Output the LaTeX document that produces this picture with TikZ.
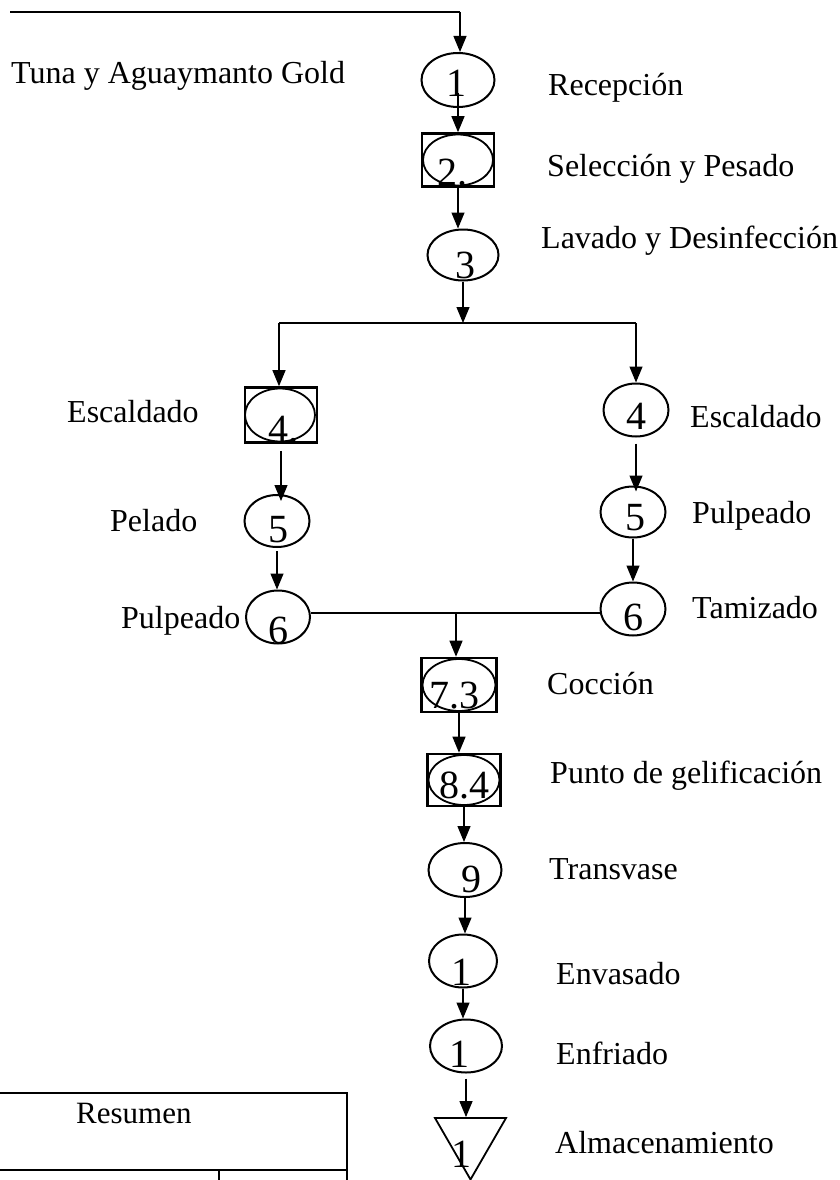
\documentclass[tikz,border=0pt]{standalone}
\usepackage{fontspec}
\setmainfont{Liberation Serif}
\usetikzlibrary{shapes.geometric,arrows.meta}

\tikzset{
  op/.style={ellipse, draw, line width=2pt, inner sep=0pt},
  caja/.style={rectangle, draw, line width=2.6pt, inner sep=0pt},
  almacen/.style={regular polygon, regular polygon sides=3, shape border rotate=180,
    draw, line width=1.8pt, inner sep=0pt, minimum size=82pt},
  num/.style={anchor=base, inner sep=0pt, font=\fontsize{40}{48}\selectfont},
  txt/.style={anchor=base west, inner sep=0pt, font=\fontsize{32}{38}\selectfont},
  flecha/.style={line width=1.2pt, -{Triangle[length=16pt,width=13pt]}},
  linea/.style={line width=1.5pt},
  tabla/.style={line width=2pt}
}

\begin{document}
\begin{tikzpicture}[x=1pt, y=-1pt]
  \useasboundingbox (0,0) rectangle (839,1180);
  \clip (0,0) rectangle (839,1180);

  \node (rec)  at (458,80)  [op, minimum width=73pt, minimum height=54pt] {};
  \node (sel)  at (458,160) [caja, minimum width=72pt, minimum height=53pt] {};
  \node (selE) at (458,160) [op, line width=1.8pt, minimum width=70pt, minimum height=51pt] {};
  \node (lav)  at (463,255) [op, minimum width=71pt, minimum height=51pt] {};

  \node (escI)  at (281,415) [caja, minimum width=72pt, minimum height=55pt] {};
  \node (escIE) at (280,415) [op, line width=1.8pt, minimum width=70pt, minimum height=53pt] {};
  \node (pelI)  at (277,521) [op, minimum width=65pt, minimum height=52pt] {};
  \node (pulI)  at (278,617) [op, minimum width=64pt, minimum height=53pt] {};

  \node (escD) at (636,410) [op, minimum width=65pt, minimum height=53pt] {};
  \node (pulD) at (633,512) [op, minimum width=65pt, minimum height=51pt] {};
  \node (tam)  at (633,609) [op, minimum width=65pt, minimum height=53pt] {};

  \node (coc)  at (459,685) [caja, minimum width=75pt, minimum height=54pt] {};
  \node (cocE) at (459,685) [op, line width=1.8pt, minimum width=73pt, minimum height=52pt] {};
  \node (gel)  at (464,780) [caja, minimum width=73pt, minimum height=52pt] {};
  \node (gelE) at (464,780) [op, line width=1.8pt, minimum width=71pt, minimum height=50pt] {};
  \node (tra)  at (465,870) [op, minimum width=73pt, minimum height=54pt] {};
  \node (env)  at (463,961) [op, minimum width=68pt, minimum height=53pt] {};
  \node (enf)  at (466,1046) [op, minimum width=72pt, minimum height=53pt] {};
  \node (alm)  at (470.5,1138.5) [almacen] {};

  \node (n1)  at (456,97)   [num] {1};
  \node (n2)  at (452,185)  [num] {2.};
  \node (n3)  at (465,278)  [num] {3};
  \node (n4I) at (283,442)  [num] {4.};
  \node (n5I) at (278,542)  [num] {5};
  \node (n6I) at (278,643)  [num] {6};
  \node (n4D) at (636,429)  [num] {4};
  \node (n5D) at (635,530)  [num] {5};
  \node (n6D) at (633,630)  [num] {6};
  \node (n7)  at (454,708)  [num] {7.3};
  \node (n8)  at (464,798)  [num] {8.4};
  \node (n9)  at (471,892)  [num] {9};
  \node (n10) at (461,985)  [num] {1};
  \node (n11) at (459,1067) [num] {1};
  \node (n12) at (461,1167) [num] {1};

  \node (tuna)  at (11,84)   [txt] {Tuna y Aguaymanto Gold};
  \node (tRec)  at (548,96)  [txt] {Recepción};
  \node (tSel)  at (547,176) [txt] {Selección y Pesado};
  \node (tLav)  at (541,248) [txt] {Lavado y Desinfección};
  \node (tEscI) at (67,422)  [txt] {Escaldado};
  \node (tPelI) at (110,531) [txt] {Pelado};
  \node (tPulI) at (121,628) [txt] {Pulpeado};
  \node (tEscD) at (690,427) [txt] {Escaldado};
  \node (tPulD) at (692,523) [txt] {Pulpeado};
  \node (tTam)  at (692,618) [txt] {Tamizado};
  \node (tCoc)  at (547,694) [txt] {Cocción};
  \node (tGel)  at (550,783) [txt] {Punto de gelificación};
  \node (tTra)  at (549,879) [txt] {Transvase};
  \node (tEnv)  at (556,984) [txt] {Envasado};
  \node (tEnf)  at (556,1064) [txt] {Enfriado};
  \node (tAlm)  at (555,1153) [txt] {Almacenamiento};
  \node (tRes)  at (76,1123) [txt, font=\fontsize{31}{37}\selectfont] {Resumen};

  \coordinate (inicio) at (10,12);
  \coordinate (esquina) at (460,12);
  \coordinate (divI) at (279,323);
  \coordinate (divD) at (636,323);
  \coordinate (division) at (463,323);
  \coordinate (union) at (456,613);

  \draw[linea] (inicio) -- (esquina);
  \draw[flecha] (esquina) -- (esquina |- rec.north);
  \draw[flecha] ([yshift=-13pt]rec.center) -- (sel.north);
  \draw[flecha] (sel.south) -- (sel.south |- lav.north);
  \draw[flecha] (lav.south) -- (division);

  \draw[linea] (divI) -- (divD);
  \draw[flecha] (divI) -- (divI |- escI.north);
  \draw[flecha] (divD) -- (escD.north);
  \draw[flecha] ([yshift=-7pt]escI.south) -- ([yshift=-7pt]escI.south |- pelI.north);
  \draw[flecha] ([yshift=-3pt]pelI.south) -- (pelI.south |- pulI.north);
  \draw[flecha] ([yshift=-6pt]escD.south) -- ([yshift=-6pt]escD.south |- pulD.north);
  \draw[flecha] (pulD.south) -- (tam.north);

  \draw[linea] (pulI.east |- union) -- (tam.west |- union);
  \draw[flecha] (union) -- (union |- coc.north);
  \draw[flecha] (coc.south) -- (coc.south |- gel.north);
  \draw[flecha] (gel.south) -- (gel.south |- tra.north);
  \draw[flecha] (tra.south) -- (tra.south |- env.north);
  \draw[flecha] (env.south) -- (env.south |- enf.north);
  \draw[flecha] ([yshift=-5pt]enf.south) -- (enf.south |- alm.north);

  \draw[tabla] (0,1093) -- (347,1093) -- (347,1190);
  \draw[tabla] (0,1170) -- (347,1170);
  \draw[tabla] (219,1170) -- (219,1190);
\end{tikzpicture}
\end{document}
